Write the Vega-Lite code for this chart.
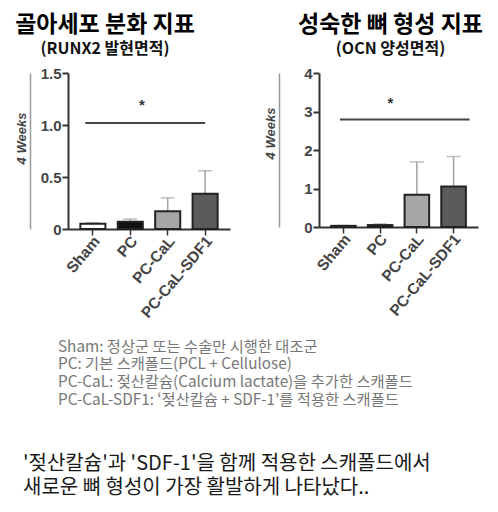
{
  "$schema": "https://vega.github.io/schema/vega-lite/v6.json",
  "padding": {"left": 15, "top": 14, "right": 5, "bottom": 5},
  "background": "white",
  "config": {
    "view": {"stroke": null},
    "font": "Noto Sans CJK KR",
    "title": {"font": "Noto Sans CJK KR", "color": "#000000"}
  },
  "datasets": {
    "runx2": [
      {"group": "Sham", "value": 0.05, "upper": 0.06},
      {"group": "PC", "value": 0.07, "upper": 0.095},
      {"group": "PC-CaL", "value": 0.17, "upper": 0.30},
      {"group": "PC-CaL-SDF1", "value": 0.34, "upper": 0.56}
    ],
    "ocn": [
      {"group": "Sham", "value": 0.03, "upper": 0.04},
      {"group": "PC", "value": 0.05, "upper": 0.08},
      {"group": "PC-CaL", "value": 0.84, "upper": 1.69},
      {"group": "PC-CaL-SDF1", "value": 1.05, "upper": 1.83}
    ],
    "sig_runx2": [{"from": "Sham", "to": "PC-CaL-SDF1", "y": 1.02, "star_at": "PC", "star_y": 1.19, "label": "*"}],
    "sig_ocn": [{"from": "Sham", "to": "PC-CaL-SDF1", "y": 2.79, "star_at": "PC", "star_y": 3.22, "label": "*"}]
  },
  "title": {
    "text": ["'젖산칼슘'과 'SDF-1'을 함께 적용한 스캐폴드에서", "새로운 뼈 형성이 가장 활발하게 나타났다.."],
    "orient": "bottom",
    "anchor": "start",
    "frame": "bounds",
    "fontSize": 20,
    "fontWeight": "normal",
    "color": "#1a1a1a",
    "lineHeight": 24,
    "offset": 46,
    "dx": 8
  },
  "vconcat": [
    {
      "title": {
        "text": ["Sham: 정상군 또는 수술만 시행한 대조군", "PC: 기본 스캐폴드(PCL + Cellulose)", "PC-CaL: 젖산칼슘(Calcium lactate)을 추가한 스캐폴드", "PC-CaL-SDF1: ‘젖산칼슘 + SDF-1’를 적용한 스캐폴드"],
        "orient": "bottom",
        "anchor": "start",
        "frame": "bounds",
        "fontSize": 15.3,
        "fontWeight": "normal",
        "color": "#787878",
        "lineHeight": 17.7,
        "offset": 19,
        "dx": 43
      },
      "spacing": 34,
      "hconcat": [
        {
          "width": 162,
          "height": 156,
          "title": {"text": "골아세포 분화 지표", "subtitle": "(RUNX2 발현면적)", "anchor": "middle", "frame": "group", "dx": -44, "fontSize": 23, "fontWeight": "bold", "subtitleFontSize": 16, "subtitleFontWeight": "bold", "subtitleColor": "#111111", "subtitlePadding": 4, "offset": 9},
          "layer": [
            {
              "data": {"name": "runx2"},
              "mark": {"type": "rule", "color": "#a3a3a3", "strokeWidth": 1.5},
              "encoding": {
                "x": {"field": "group", "type": "nominal", "scale": {"domain": ["Sham", "PC", "PC-CaL", "PC-CaL-SDF1"], "paddingInner": 0.33, "paddingOuter": 0.33}, "axis": {"title": null, "labelAngle": -50, "labelFont": "Liberation Sans", "labelFontSize": 15.5, "labelFontWeight": "bold", "labelColor": "#444444", "domainColor": "#333333", "domainWidth": 2, "tickColor": "#333333", "tickWidth": 1.5, "tickSize": 6, "labelPadding": 3, "labelOffset": 4}},
                "y": {"field": "value", "type": "quantitative", "axis": {"orient": "left", "offset": 38, "labels": false, "ticks": false, "grid": false, "domainColor": "#9a9a9a", "domainWidth": 1.5, "title": "4 Weeks", "titleFont": "Liberation Sans", "titleFontStyle": "italic", "titleFontWeight": "bold", "titleFontSize": 13, "titleColor": "#444444", "titlePadding": 2, "titleY": 65}},
                "y2": {"field": "upper"}
              }
            },
            {
              "data": {"name": "runx2"},
              "mark": {"type": "tick", "color": "#a3a3a3", "thickness": 1.5, "size": 14, "orient": "horizontal"},
              "encoding": {
                "x": {"field": "group", "type": "nominal"},
                "y": {"field": "upper", "type": "quantitative", "axis": null}
              }
            },
            {
              "data": {"name": "runx2"},
              "mark": {"type": "bar", "stroke": "#222222", "strokeWidth": 2},
              "encoding": {
                "x": {"field": "group", "type": "nominal"},
                "y": {"field": "value", "type": "quantitative", "scale": {"domain": [0, 1.5], "nice": false}, "axis": {"orient": "left", "values": [0, 0.5, 1, 1.5], "labelExpr": "datum.value == 0 ? '0' : format(datum.value, '.1f')", "grid": false, "title": null, "labelFont": "Liberation Sans", "labelFontSize": 15, "labelFontWeight": "bold", "labelColor": "#444444", "domainColor": "#333333", "domainWidth": 2, "tickColor": "#333333", "tickWidth": 2, "tickSize": 6, "labelPadding": 1}},
                "fill": {"field": "group", "type": "nominal", "scale": {"domain": ["Sham", "PC", "PC-CaL", "PC-CaL-SDF1"], "range": ["#ffffff", "#111111", "#a6a6a6", "#5b5b5b"]}, "legend": null}
              }
            },
            {
              "data": {"name": "sig_runx2"},
              "mark": {"type": "rule", "color": "#444444", "strokeWidth": 2},
              "encoding": {
                "x": {"field": "from", "type": "nominal", "bandPosition": 0.2},
                "x2": {"field": "to", "bandPosition": 0.5},
                "y": {"field": "y", "type": "quantitative", "axis": null}
              }
            },
            {
              "data": {"name": "sig_runx2"},
              "mark": {"type": "text", "font": "Liberation Sans", "fontSize": 15, "fontWeight": "bold", "color": "#333333", "baseline": "middle"},
              "encoding": {
                "x": {"field": "star_at", "type": "nominal", "bandPosition": 0.96},
                "y": {"field": "star_y", "type": "quantitative", "axis": null},
                "text": {"field": "label"}
              }
            }
          ],
          "resolve": {"axis": {"y": "independent"}}
        },
        {
          "width": 159,
          "height": 154,
          "title": {"text": "성숙한 뼈 형성 지표", "subtitle": "(OCN 양성면적)", "anchor": "middle", "frame": "group", "dx": -8, "fontSize": 23, "fontWeight": "bold", "subtitleFontSize": 16, "subtitleFontWeight": "bold", "subtitleColor": "#111111", "subtitlePadding": 4, "offset": 9},
          "layer": [
            {
              "data": {"name": "ocn"},
              "mark": {"type": "rule", "color": "#a3a3a3", "strokeWidth": 1.5},
              "encoding": {
                "x": {"field": "group", "type": "nominal", "scale": {"domain": ["Sham", "PC", "PC-CaL", "PC-CaL-SDF1"], "paddingInner": 0.33, "paddingOuter": 0.33}, "axis": {"title": null, "labelAngle": -50, "labelFont": "Liberation Sans", "labelFontSize": 15.5, "labelFontWeight": "bold", "labelColor": "#444444", "domainColor": "#333333", "domainWidth": 2, "tickColor": "#333333", "tickWidth": 1.5, "tickSize": 6, "labelPadding": 3, "labelOffset": 4}},
                "y": {"field": "value", "type": "quantitative", "axis": {"orient": "left", "offset": 40, "labels": false, "ticks": false, "grid": false, "domainColor": "#9a9a9a", "domainWidth": 1.5, "title": "4 Weeks", "titleFont": "Liberation Sans", "titleFontStyle": "italic", "titleFontWeight": "bold", "titleFontSize": 13, "titleColor": "#444444", "titlePadding": 2, "titleY": 60}},
                "y2": {"field": "upper"}
              }
            },
            {
              "data": {"name": "ocn"},
              "mark": {"type": "tick", "color": "#a3a3a3", "thickness": 1.5, "size": 14, "orient": "horizontal"},
              "encoding": {
                "x": {"field": "group", "type": "nominal"},
                "y": {"field": "upper", "type": "quantitative", "axis": null}
              }
            },
            {
              "data": {"name": "ocn"},
              "mark": {"type": "bar", "stroke": "#222222", "strokeWidth": 2},
              "encoding": {
                "x": {"field": "group", "type": "nominal"},
                "y": {"field": "value", "type": "quantitative", "scale": {"domain": [0, 4], "nice": false}, "axis": {"orient": "left", "values": [0, 1, 2, 3, 4], "grid": false, "title": null, "labelFont": "Liberation Sans", "labelFontSize": 15, "labelFontWeight": "bold", "labelColor": "#444444", "domainColor": "#333333", "domainWidth": 2, "tickColor": "#333333", "tickWidth": 2, "tickSize": 6, "labelPadding": 1}},
                "fill": {"field": "group", "type": "nominal", "scale": {"domain": ["Sham", "PC", "PC-CaL", "PC-CaL-SDF1"], "range": ["#ffffff", "#111111", "#a6a6a6", "#5b5b5b"]}, "legend": null}
              }
            },
            {
              "data": {"name": "sig_ocn"},
              "mark": {"type": "rule", "color": "#444444", "strokeWidth": 2},
              "encoding": {
                "x": {"field": "from", "type": "nominal", "bandPosition": 0.36},
                "x2": {"field": "to", "bandPosition": 1.15},
                "y": {"field": "y", "type": "quantitative", "axis": null}
              }
            },
            {
              "data": {"name": "sig_ocn"},
              "mark": {"type": "text", "font": "Liberation Sans", "fontSize": 15, "fontWeight": "bold", "color": "#333333", "baseline": "middle"},
              "encoding": {
                "x": {"field": "star_at", "type": "nominal", "bandPosition": 0.92},
                "y": {"field": "star_y", "type": "quantitative", "axis": null},
                "text": {"field": "label"}
              }
            }
          ],
          "resolve": {"axis": {"y": "independent"}}
        }
      ]
    }
  ]
}
